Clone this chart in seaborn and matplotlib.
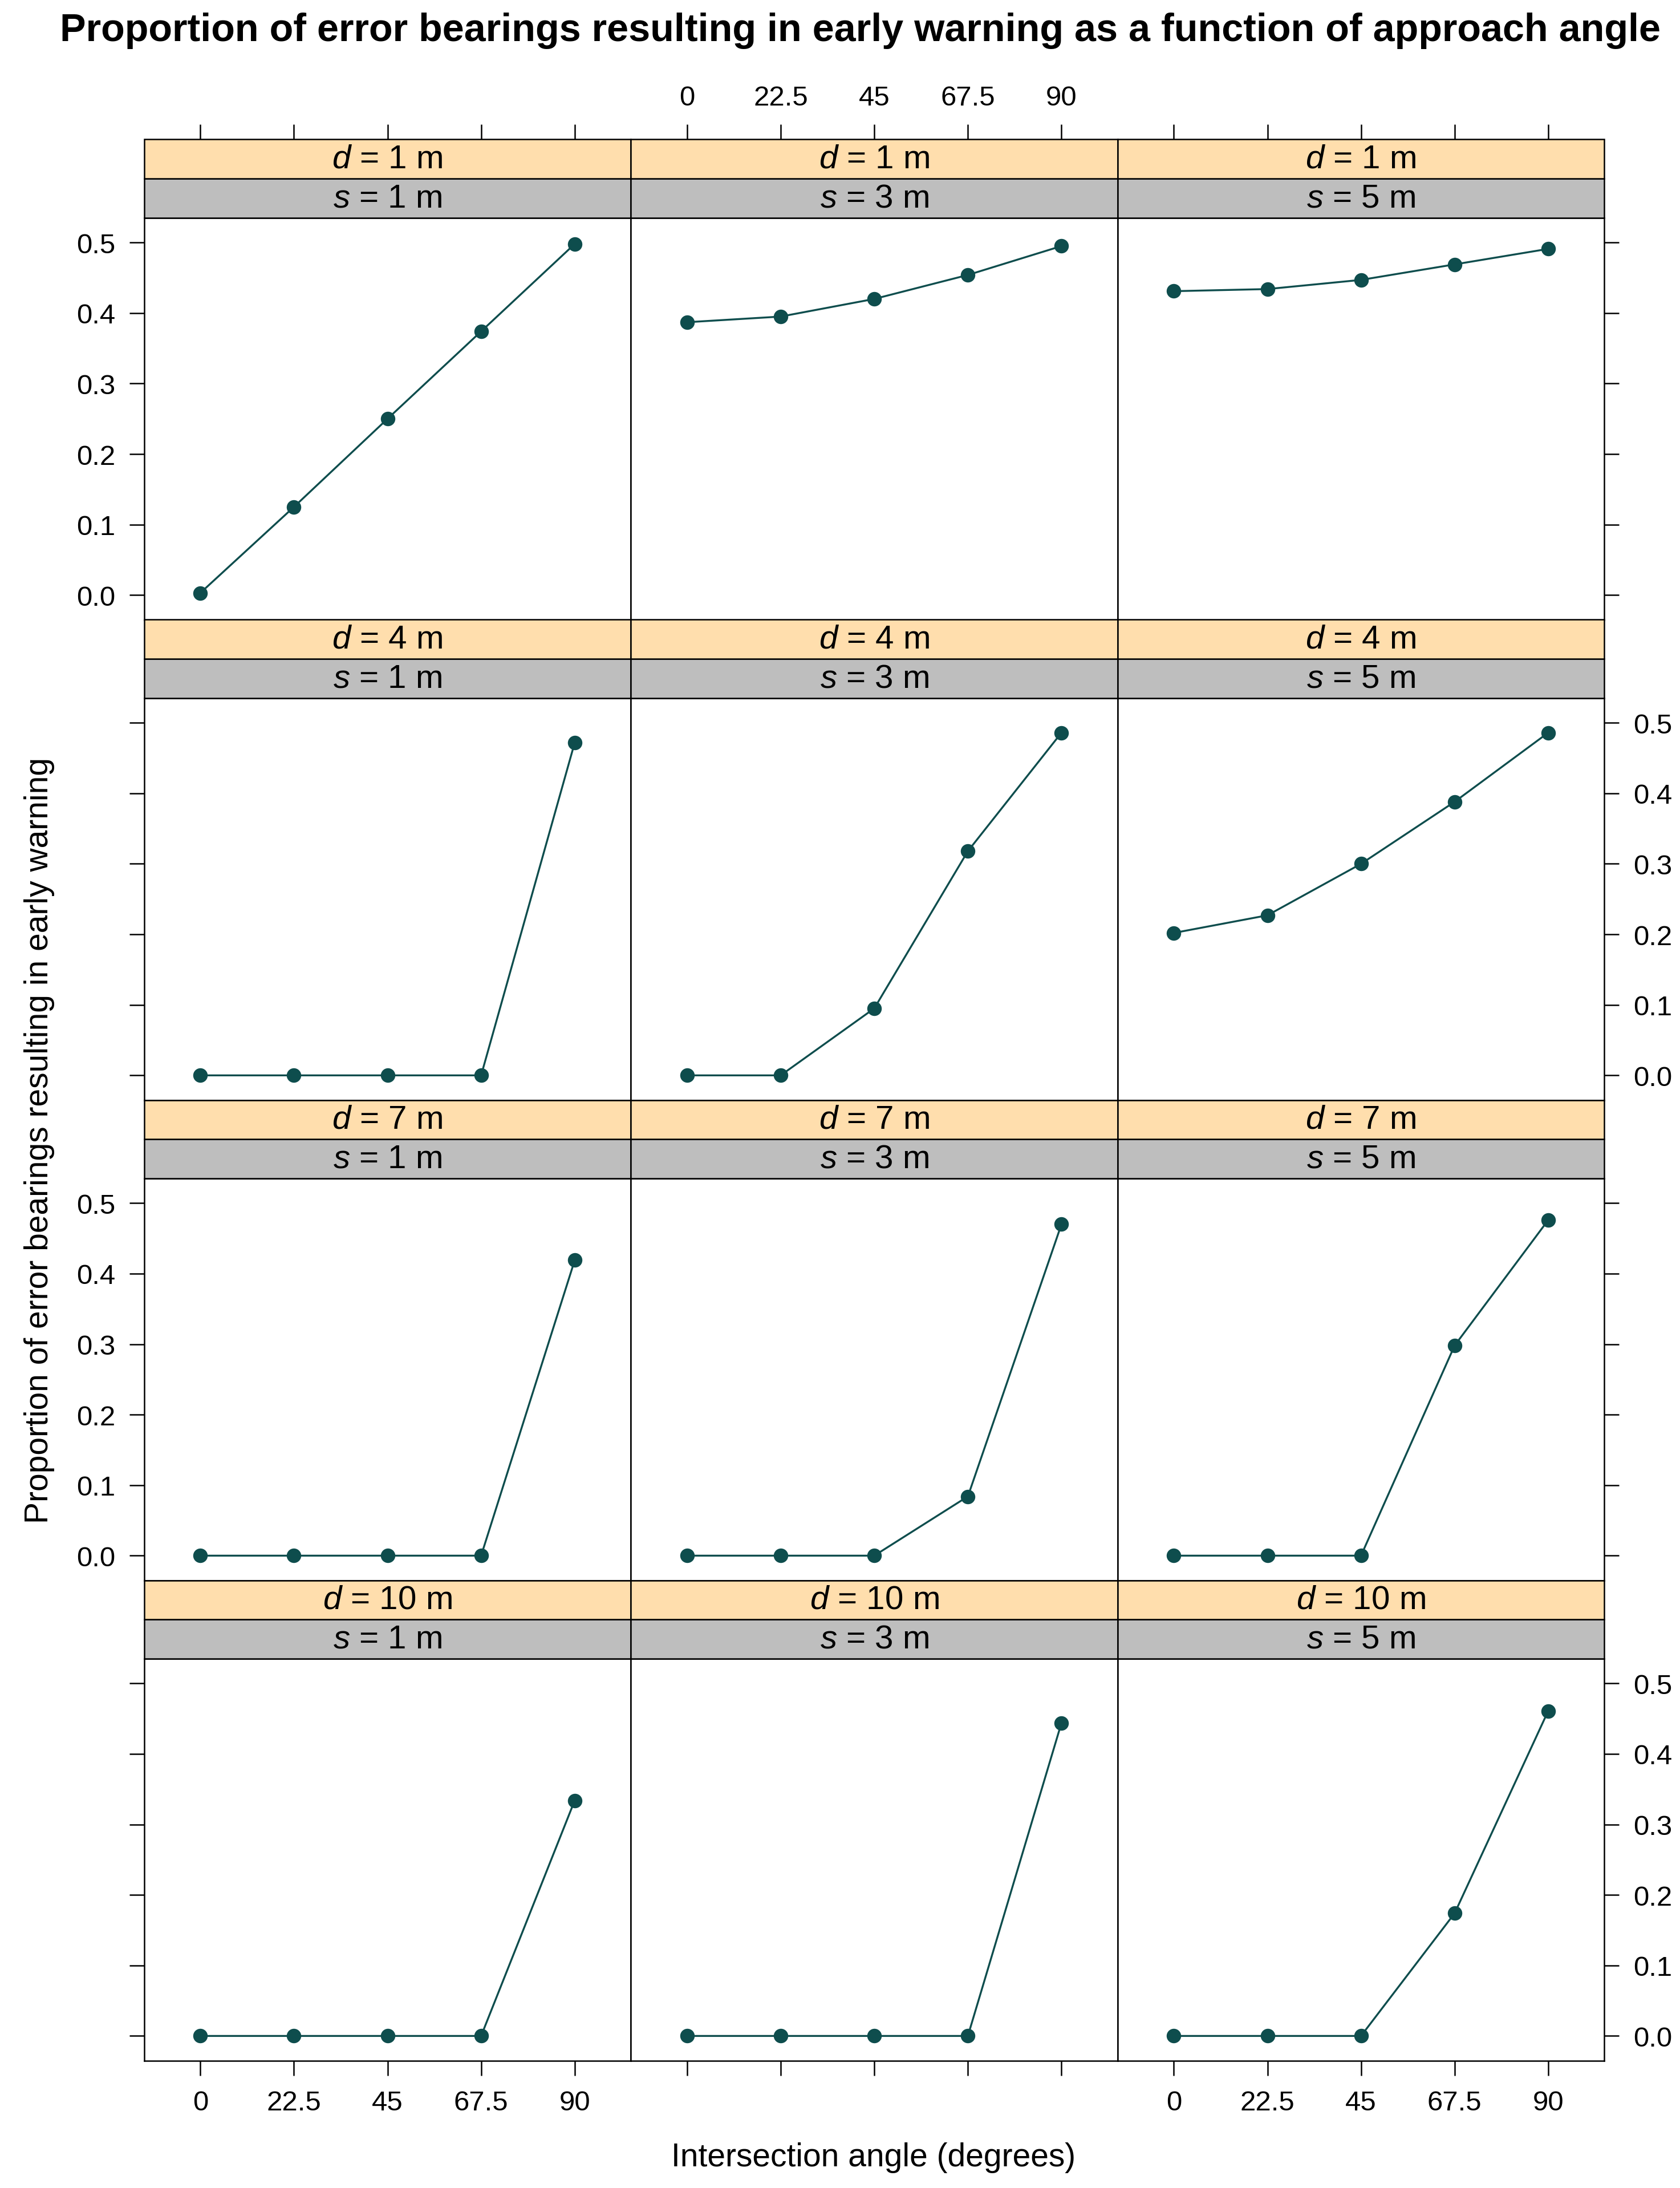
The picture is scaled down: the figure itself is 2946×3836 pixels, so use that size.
import numpy as np
import pandas as pd
import matplotlib
matplotlib.use("Agg")
import matplotlib.pyplot as plt
from matplotlib.patches import Rectangle
import seaborn as sns

# Datos
angles = ["0", "22.5", "45", "67.5", "90"]
d_levels = [1, 4, 7, 10]
s_levels = [1, 3, 5]

# proporciones por distancia d (filas) y s (columnas)
p_d1_s1 = [0.003, 0.125, 0.250, 0.374, 0.498]
p_d1_s3 = [0.387, 0.395, 0.420, 0.454, 0.495]
p_d1_s5 = [0.431, 0.434, 0.447, 0.469, 0.491]
p_d4_s1 = [0.0, 0.0, 0.0, 0.0, 0.472]
p_d4_s3 = [0.0, 0.0, 0.095, 0.318, 0.486]
p_d4_s5 = [0.202, 0.227, 0.300, 0.388, 0.486]
p_d7_s1 = [0.0, 0.0, 0.0, 0.0, 0.419]
p_d7_s3 = [0.0, 0.0, 0.0, 0.084, 0.470]
p_d7_s5 = [0.0, 0.0, 0.0, 0.298, 0.476]
p_d10_s1 = [0.0, 0.0, 0.0, 0.0, 0.334]
p_d10_s3 = [0.0, 0.0, 0.0, 0.0, 0.444]
p_d10_s5 = [0.0, 0.0, 0.0, 0.174, 0.461]

series = {
    (1, 1): p_d1_s1, (1, 3): p_d1_s3, (1, 5): p_d1_s5,
    (4, 1): p_d4_s1, (4, 3): p_d4_s3, (4, 5): p_d4_s5,
    (7, 1): p_d7_s1, (7, 3): p_d7_s3, (7, 5): p_d7_s5,
    (10, 1): p_d10_s1, (10, 3): p_d10_s3, (10, 5): p_d10_s5,
}

rows = []
for (d, s), vals in series.items():
    for a, v in zip(angles, vals):
        rows.append({"d": d, "s": s, "angle": a, "p": v})
df = pd.DataFrame(rows)

sns.set_theme(style="white")
plt.rcParams["font.family"] = ["Liberation Sans", "DejaVu Sans"]
plt.rcParams["mathtext.fontset"] = "custom"
plt.rcParams["mathtext.rm"] = "Liberation Sans"
plt.rcParams["mathtext.it"] = "Liberation Sans:italic"
plt.rcParams["text.color"] = "black"
plt.rcParams["axes.labelcolor"] = "black"
plt.rcParams["xtick.color"] = "black"
plt.rcParams["ytick.color"] = "black"

point_col = "#0E4D4D"
strip_top = "#FFDEAD"
strip_bot = "#BEBEBE"
lw = 0.6
tick_fs = 11.8
strip_fs = 14

g = sns.FacetGrid(df, row="d", col="s", row_order=d_levels, col_order=s_levels,
                  sharex=True, sharey=True, despine=False)
g.map_dataframe(sns.pointplot, x="angle", y="p", order=angles, color=point_col,
                markers="o", markersize=5.5, linewidth=0.8, errorbar=None)

fig = g.figure
fig.set_size_inches(2946 / 300, 3837 / 300)
fig.subplots_adjust(left=0.0858, right=0.955, top=0.9002, bottom=0.0582,
                    wspace=0, hspace=0.195)

sh = 28 / 287  # alto de cada tira en fraccion del panel
for i, d in enumerate(d_levels):
    for j, s in enumerate(s_levels):
        ax = g.axes[i, j]
        ax.set_title("")
        ax.set_xlabel("")
        ax.set_ylabel("")
        ax.set_xlim(-0.6, 4.6)
        ax.set_ylim(-0.035, 0.535)
        ax.set_yticks([0.0, 0.1, 0.2, 0.3, 0.4, 0.5])
        ax.set_yticklabels(["0.0", "0.1", "0.2", "0.3", "0.4", "0.5"])
        ax.set_xticks(range(len(angles)))
        ax.set_xticklabels(angles)
        for sp in ax.spines.values():
            sp.set_visible(True)
            sp.set_color("black")
            sp.set_linewidth(lw)
        ax.tick_params(axis="x", direction="out", length=6.2, width=lw, pad=6,
                       labelsize=tick_fs, colors="black",
                       bottom=(i == 3), top=False,
                       labelbottom=(i == 3 and j != 1), labeltop=False)
        ax.tick_params(axis="y", direction="out", length=6.2, width=lw, pad=6,
                       labelsize=tick_fs, colors="black",
                       left=(j == 0), right=(j == 2),
                       labelleft=(j == 0 and i % 2 == 0),
                       labelright=(j == 2 and i % 2 == 1))
        # tiras estilo lattice
        ax.add_patch(Rectangle((0, 1), 1, sh, transform=ax.transAxes,
                               facecolor=strip_bot, edgecolor="black",
                               linewidth=lw, clip_on=False, zorder=5))
        ax.add_patch(Rectangle((0, 1 + sh), 1, sh, transform=ax.transAxes,
                               facecolor=strip_top, edgecolor="black",
                               linewidth=lw, clip_on=False, zorder=5))
        ax.text(0.5, 1 + sh / 2, f"$s$ = {s} m", transform=ax.transAxes,
                ha="center", va="center", fontsize=strip_fs, zorder=6)
        ax.text(0.5, 1 + 1.5 * sh, f"$d$ = {d} m", transform=ax.transAxes,
                ha="center", va="center", fontsize=strip_fs, zorder=6)
        if i == 0:
            sec = ax.secondary_xaxis(1 + 2 * sh)
            sec.set_xticks(range(len(angles)))
            sec.set_xticklabels(angles if j == 1 else [""] * len(angles))
            sec.spines["top"].set_visible(False)
            sec.tick_params(direction="out", length=6.2, width=lw, pad=6,
                            labelsize=tick_fs, colors="black")

fig.text(0.512, 0.986,
         "Proportion of error bearings resulting in early warning as a function of approach angle",
         ha="center", va="center", fontsize=16.4, fontweight="bold")
fig.text(0.52, 0.014, "Intersection angle (degrees)", ha="center", va="center",
         fontsize=13.7)
fig.text(0.0233, 0.479, "Proportion of error bearings resulting in early warning",
         ha="center", va="center", rotation=90, fontsize=13.7)

fig.savefig("out.png", dpi=300)
